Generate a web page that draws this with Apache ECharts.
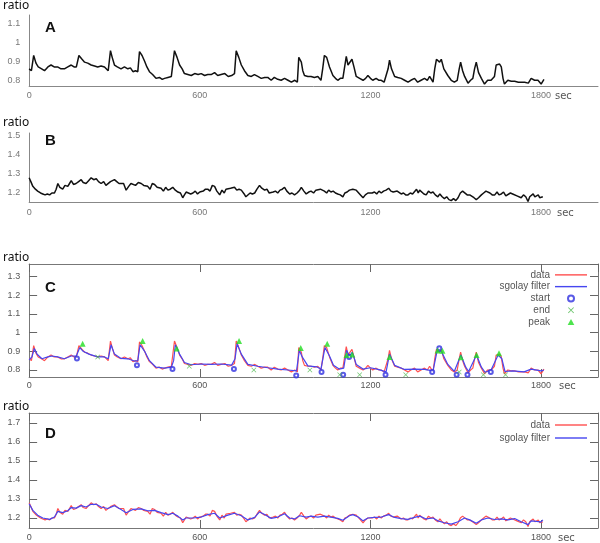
<!DOCTYPE html>
<html>
<head>
<meta charset="utf-8">
<script src="https://cdn.jsdelivr.net/npm/echarts@6/dist/echarts.min.js"></script>
<style>
html, body { margin: 0; padding: 0; background: #fff; }
#chart { width: 600px; height: 543px; }
</style>
</head>
<body>
<div id="chart"></div>
<script>
'use strict';
// ===== 数据: [sec, ratio] =====
// A 和 C 的原始数据
const ratioA = [[0,0.86],[8,0.85],[16,0.93],[24,0.89],[32,0.87],[44,0.86],[54,0.85],[66,0.87],[77,0.88],[88,0.87],[100,0.87],[112,0.86],[124,0.86],[136,0.87],[148,0.88],[158,0.87],[166,0.87],[175,0.93],[186,0.91],[195,0.895],[206,0.89],[218,0.88],[230,0.875],[241,0.87],[253,0.875],[265,0.87],[272,0.875],[278,0.85],[286,0.955],[292,0.92],[300,0.88],[310,0.87],[323,0.86],[335,0.87],[347,0.86],[356,0.865],[365,0.845],[374,0.85],[382,0.845],[388,0.95],[397,0.93],[406,0.90],[414,0.87],[423,0.845],[434,0.83],[446,0.81],[458,0.815],[468,0.805],[476,0.81],[488,0.815],[500,0.82],[505,0.81],[511,0.955],[520,0.92],[529,0.88],[538,0.86],[546,0.835],[558,0.83],[570,0.825],[582,0.835],[594,0.83],[605,0.835],[617,0.825],[628,0.83],[640,0.83],[652,0.84],[663,0.825],[675,0.83],[688,0.835],[700,0.82],[712,0.825],[722,0.835],[728,0.955],[737,0.92],[746,0.88],[757,0.85],[769,0.825],[781,0.82],[792,0.83],[804,0.82],[816,0.81],[828,0.815],[839,0.815],[851,0.80],[862,0.815],[874,0.805],[886,0.80],[898,0.81],[910,0.80],[922,0.79],[934,0.80],[943,0.79],[948,0.92],[957,0.895],[962,0.85],[968,0.825],[980,0.82],[991,0.82],[1003,0.815],[1015,0.82],[1026,0.80],[1032,0.86],[1038,0.93],[1046,0.92],[1056,0.87],[1062,0.86],[1068,0.825],[1077,0.81],[1085,0.80],[1094,0.81],[1103,0.81],[1109,0.80],[1115,0.925],[1121,0.88],[1126,0.87],[1135,0.91],[1142,0.87],[1150,0.82],[1162,0.81],[1174,0.80],[1183,0.81],[1191,0.825],[1200,0.81],[1208,0.80],[1220,0.81],[1230,0.80],[1238,0.80],[1248,0.79],[1255,0.785],[1262,0.86],[1267,0.905],[1274,0.86],[1285,0.82],[1296,0.815],[1308,0.81],[1320,0.80],[1332,0.79],[1342,0.80],[1355,0.81],[1366,0.79],[1378,0.80],[1390,0.81],[1400,0.80],[1408,0.82],[1420,0.79],[1426,0.86],[1432,0.91],[1438,0.90],[1443,0.895],[1449,0.91],[1458,0.86],[1472,0.825],[1484,0.80],[1495,0.79],[1505,0.80],[1512,0.86],[1517,0.895],[1524,0.85],[1531,0.82],[1543,0.785],[1552,0.80],[1560,0.81],[1566,0.86],[1572,0.895],[1580,0.84],[1590,0.81],[1601,0.78],[1612,0.80],[1624,0.80],[1636,0.82],[1642,0.88],[1648,0.89],[1654,0.885],[1660,0.87],[1666,0.81],[1671,0.78],[1683,0.80],[1695,0.795],[1707,0.795],[1720,0.79],[1732,0.79],[1742,0.79],[1755,0.785],[1765,0.81],[1777,0.80],[1789,0.80],[1800,0.78],[1810,0.805]];

// C 的 sgolay 滤波曲线
const filterC = [[0,0.855],[10,0.87],[18,0.915],[28,0.885],[45,0.86],[66,0.87],[80,0.875],[100,0.87],[124,0.86],[148,0.875],[166,0.875],[178,0.92],[190,0.9],[210,0.885],[241,0.87],[265,0.87],[278,0.86],[288,0.935],[300,0.885],[323,0.862],[347,0.86],[370,0.848],[382,0.85],[390,0.935],[406,0.9],[423,0.85],[446,0.815],[476,0.81],[500,0.815],[508,0.85],[514,0.935],[529,0.885],[546,0.84],[570,0.828],[605,0.832],[640,0.83],[675,0.832],[712,0.826],[724,0.86],[731,0.94],[746,0.885],[769,0.83],[804,0.82],[839,0.812],[874,0.805],[910,0.8],[940,0.795],[950,0.905],[960,0.87],[980,0.822],[1010,0.817],[1026,0.805],[1040,0.92],[1056,0.875],[1070,0.825],[1090,0.805],[1106,0.81],[1116,0.905],[1126,0.875],[1136,0.895],[1150,0.83],[1174,0.805],[1200,0.812],[1230,0.802],[1255,0.79],[1267,0.885],[1285,0.825],[1320,0.803],[1355,0.805],[1390,0.803],[1420,0.795],[1434,0.9],[1449,0.9],[1472,0.83],[1495,0.793],[1518,0.88],[1535,0.815],[1545,0.792],[1573,0.88],[1590,0.815],[1603,0.788],[1624,0.8],[1649,0.88],[1662,0.86],[1673,0.792],[1700,0.795],[1740,0.79],[1765,0.805],[1800,0.795],[1810,0.8]];

// C 的检测点
const startC = [[168,0.862],[379,0.825],[504,0.805],[720,0.805],[939,0.77],[1028,0.79],[1104,0.775],[1125,0.87],[1253,0.774],[1417,0.79],[1442,0.917],[1503,0.775],[1541,0.775],[1623,0.79]];
const endC = [[241,0.87],[563,0.82],[790,0.80],[987,0.80],[1092,0.775],[1162,0.775],[1324,0.775],[1512,0.79],[1597,0.774],[1675,0.774]];
const peakC = [[188,0.94],[399,0.955],[519,0.915],[738,0.955],[955,0.918],[1048,0.94],[1116,0.88],[1136,0.883],[1267,0.87],[1436,0.905],[1453,0.903],[1518,0.868],[1573,0.88],[1652,0.89]];

// B 和 D 的原始数据
const ratioB = [[0,1.28],[6,1.26],[13,1.235],[22,1.22],[30,1.21],[40,1.2],[48,1.195],[56,1.19],[64,1.195],[72,1.19],[80,1.2],[89,1.2],[95,1.22],[101,1.25],[108,1.23],[118,1.22],[126,1.24],[136,1.235],[142,1.25],[148,1.265],[156,1.245],[165,1.25],[174,1.26],[183,1.27],[190,1.255],[200,1.25],[209,1.265],[218,1.28],[227,1.27],[236,1.275],[244,1.26],[253,1.25],[262,1.26],[270,1.24],[277,1.245],[286,1.26],[293,1.255],[300,1.27],[308,1.26],[316,1.25],[323,1.24],[332,1.25],[341,1.215],[350,1.235],[358,1.25],[365,1.25],[374,1.24],[384,1.255],[394,1.25],[403,1.24],[410,1.245],[417,1.235],[425,1.22],[433,1.25],[441,1.245],[450,1.23],[457,1.235],[464,1.225],[472,1.21],[480,1.23],[488,1.215],[496,1.22],[505,1.23],[514,1.215],[523,1.205],[532,1.2],[540,1.175],[546,1.19],[552,1.205],[560,1.2],[568,1.195],[576,1.2],[584,1.21],[592,1.195],[600,1.205],[605,1.2],[612,1.21],[620,1.22],[628,1.22],[636,1.21],[644,1.24],[652,1.235],[660,1.21],[670,1.19],[678,1.215],[686,1.2],[692,1.22],[699,1.215],[708,1.225],[715,1.235],[722,1.23],[730,1.215],[738,1.22],[746,1.215],[756,1.195],[762,1.18],[769,1.18],[777,1.2],[785,1.195],[793,1.2],[801,1.22],[810,1.24],[818,1.225],[828,1.215],[836,1.22],[844,1.2],[851,1.19],[858,1.205],[866,1.21],[874,1.2],[882,1.215],[890,1.22],[898,1.23],[906,1.21],[916,1.195],[924,1.2],[933,1.19],[942,1.2],[951,1.215],[957,1.23],[966,1.21],[974,1.195],[983,1.205],[991,1.21],[1000,1.2],[1008,1.215],[1015,1.205],[1024,1.22],[1031,1.21],[1038,1.21],[1046,1.2],[1053,1.215],[1061,1.205],[1069,1.21],[1077,1.2],[1085,1.195],[1094,1.19],[1103,1.18],[1110,1.2],[1118,1.205],[1126,1.215],[1132,1.225],[1138,1.22],[1145,1.21],[1150,1.215],[1157,1.205],[1165,1.19],[1174,1.175],[1182,1.19],[1191,1.2],[1198,1.21],[1206,1.2],[1214,1.205],[1222,1.195],[1230,1.21],[1238,1.2],[1246,1.21],[1255,1.215],[1264,1.225],[1272,1.21],[1280,1.205],[1285,1.2],[1294,1.21],[1300,1.2],[1308,1.195],[1316,1.2],[1324,1.19],[1332,1.19],[1340,1.2],[1348,1.195],[1355,1.205],[1362,1.22],[1368,1.2],[1373,1.215],[1380,1.205],[1388,1.195],[1396,1.19],[1404,1.21],[1412,1.2],[1420,1.205],[1428,1.19],[1437,1.18],[1444,1.195],[1452,1.18],[1460,1.17],[1468,1.18],[1476,1.165],[1484,1.16],[1492,1.17],[1500,1.16],[1508,1.175],[1516,1.2],[1524,1.21],[1531,1.205],[1540,1.19],[1549,1.19],[1556,1.18],[1564,1.175],[1572,1.165],[1580,1.175],[1590,1.19],[1598,1.2],[1606,1.21],[1613,1.205],[1620,1.2],[1628,1.19],[1637,1.19],[1645,1.205],[1652,1.19],[1660,1.195],[1668,1.205],[1676,1.185],[1683,1.19],[1692,1.2],[1700,1.195],[1707,1.2],[1715,1.185],[1722,1.19],[1730,1.175],[1738,1.19],[1746,1.18],[1754,1.155],[1760,1.18],[1765,1.19],[1772,1.195],[1778,1.18],[1783,1.18],[1790,1.19],[1795,1.175],[1800,1.175],[1806,1.18]];

// D 的 sgolay 滤波曲线
const filterD = [[0,1.275],[13,1.24],[30,1.215],[48,1.2],[72,1.193],[89,1.205],[101,1.235],[118,1.228],[136,1.238],[148,1.255],[165,1.252],[183,1.265],[200,1.258],[218,1.272],[236,1.272],[253,1.258],[277,1.25],[300,1.265],[323,1.245],[341,1.228],[365,1.245],[394,1.248],[417,1.238],[441,1.24],[464,1.228],[488,1.218],[505,1.225],[523,1.21],[540,1.19],[552,1.2],[576,1.2],[605,1.205],[628,1.218],[652,1.225],[670,1.2],[699,1.215],[722,1.225],[746,1.212],[769,1.19],[793,1.203],[810,1.232],[828,1.218],[851,1.198],[874,1.205],[898,1.222],[916,1.2],[933,1.195],[951,1.212],[974,1.205],[991,1.21],[1015,1.205],[1038,1.21],[1061,1.205],[1085,1.198],[1103,1.188],[1126,1.212],[1138,1.218],[1157,1.205],[1174,1.185],[1191,1.2],[1214,1.203],[1238,1.205],[1264,1.218],[1285,1.203],[1308,1.197],[1332,1.193],[1355,1.203],[1373,1.21],[1396,1.195],[1420,1.2],[1437,1.185],[1460,1.175],[1484,1.168],[1508,1.18],[1531,1.2],[1549,1.19],[1572,1.172],[1590,1.19],[1613,1.2],[1637,1.192],[1660,1.195],[1683,1.19],[1707,1.197],[1730,1.18],[1754,1.165],[1765,1.185],[1783,1.182],[1800,1.18],[1806,1.19]];

const panelNames = ['A', 'B', 'C', 'D'];
const legendC = ['data', 'sgolay filter', 'start', 'end', 'peak'];
const legendD = ['data', 'sgolay filter'];

// ===== 布局 =====
let grids = [
    { left: 28, width: 570, top: 15, height: 71 },
    { left: 28, width: 570, top: 133, height: 69 },
    { left: 28, width: 570, top: 264, height: 113 },
    { left: 28, width: 570, top: 413, height: 115 }
];
let yRange = [[0.77, 1.142], [1.1526, 1.5158], [0.7626, 1.367], [1.1474, 1.7526]];
let labelFont = 'Liberation Sans';

// 图形符号
let crossPath = 'path://M0,1L1,0L5,4L9,0L10,1L6,5L10,9L9,10L5,6L1,10L0,9L4,5Z';
let triPath = 'path://M5,0L10,9L0,9Z';
let linePath = 'path://M0,0L32,0L32,1.4L0,1.4Z';
let redColor = '#ff5050';
let blueColor = '#4646f0';

function plainNum(v) {
    return String(v);
}

function plainX(grid, margin) {
    return {
        type: 'value', gridIndex: grid, min: 0, max: 2000, interval: 600,
        axisLine: { lineStyle: { color: '#888' } },
        axisTick: { show: false },
        splitLine: { show: false },
        axisLabel: { color: '#777', fontSize: 9, fontFamily: labelFont, margin: margin, showMaxLabel: false, formatter: plainNum }
    };
}

function plainY(grid, gap) {
    return {
        type: 'value', gridIndex: grid, min: yRange[grid][0], max: yRange[grid][1],
        minInterval: 0.1, maxInterval: 0.1,
        name: 'ratio', nameLocation: 'end', nameGap: gap,
        nameTextStyle: { color: '#111', fontSize: 12, fontFamily: 'Noto Sans', align: 'right', verticalAlign: 'bottom' },
        axisLine: { show: true, lineStyle: { color: '#888' } },
        axisTick: { show: false },
        splitLine: { show: false },
        axisLabel: { color: '#777', fontSize: 9, fontFamily: labelFont, margin: 9, showMinLabel: false, showMaxLabel: false }
    };
}

function boxX(grid, pos, margin) {
    return {
        type: 'value', gridIndex: grid, position: pos, min: 0, max: 2000, interval: 600,
        axisLine: { onZero: false, lineStyle: { color: '#777' } },
        axisTick: { inside: true, length: 8, lineStyle: { color: '#666' } },
        splitLine: { show: false },
        axisLabel: { show: pos === 'bottom', color: '#555', fontSize: 9, fontFamily: labelFont, margin: margin, showMaxLabel: false, formatter: plainNum }
    };
}

function boxY(grid, pos, gap) {
    let ax = {
        type: 'value', gridIndex: grid, position: pos, min: yRange[grid][0], max: yRange[grid][1],
        minInterval: 0.1, maxInterval: 0.1,
        axisLine: { show: true, onZero: false, lineStyle: { color: '#777' } },
        axisTick: { show: true, inside: true, length: 8, lineStyle: { color: '#666' } },
        splitLine: { show: false },
        axisLabel: { show: pos === 'left', color: '#555', fontSize: 9, fontFamily: labelFont, margin: 9, showMinLabel: false, showMaxLabel: false }
    };
    if (pos === 'left') {
        ax.name = 'ratio';
        ax.nameLocation = 'end';
        ax.nameGap = gap;
        ax.nameTextStyle = { color: '#111', fontSize: 12, fontFamily: 'Noto Sans', align: 'right', verticalAlign: 'bottom' };
    }
    return ax;
}

function lineSeries(name, data, x, y, color, width) {
    return {
        name: name, type: 'line', data: data, xAxisIndex: x, yAxisIndex: y,
        showSymbol: false, symbol: 'none', animation: false,
        lineStyle: { color: color, width: width },
        itemStyle: { color: color }
    };
}

function dotSeries(name, data, symbol, size, color, border) {
    return {
        name: name, type: 'scatter', data: data, xAxisIndex: 2, yAxisIndex: 2,
        symbol: symbol, symbolSize: size, animation: false,
        itemStyle: { color: color, borderColor: color, borderWidth: border },
        z: 5
    };
}

// 图例项: 线条用细长矩形图标
function legendItems(names) {
    return names.map(function(n) {
        if (n === 'data' || n === 'sgolay filter') {
            return { name: n, icon: linePath };
        }
        return { name: n };
    });
}

let letterTop = [20, 133, 280, 426];
let secPos = [[555, 97], [557, 214], [559, 387], [558, 539]];

let option = {
    backgroundColor: '#fff',
    animation: false,
    grid: grids,
    title: panelNames.map(function(n, i) {
        return {
            text: n, left: 45, top: letterTop[i], padding: 0,
            textStyle: { fontFamily: 'Liberation Sans', fontWeight: 'bold', fontSize: 15, color: '#111' }
        };
    }),
    xAxis: [
        plainX(0, 5),
        plainX(1, 6),
        boxX(2, 'bottom', 4),
        boxX(2, 'top', 4),
        boxX(3, 'bottom', 5),
        boxX(3, 'top', 5)
    ],
    yAxis: [
        plainY(0, 3),
        plainY(1, 4),
        boxY(2, 'left', 0),
        boxY(2, 'right', 0),
        boxY(3, 'left', 0),
        boxY(3, 'right', 0)
    ],
    legend: [{
        data: legendItems(legendC),
        orient: 'vertical', align: 'right', right: 13, top: 269, padding: 0,
        itemGap: 0, itemWidth: 32, itemHeight: 6, selectedMode: false,
        textStyle: { color: '#555', fontSize: 10, fontFamily: labelFont, lineHeight: 11.75 }
    }, {
        data: legendItems(legendD),
        orient: 'vertical', align: 'right', right: 13, top: 419, padding: 0,
        itemGap: 1, itemWidth: 32, itemHeight: 6, selectedMode: false,
        textStyle: { color: '#555', fontSize: 10, fontFamily: labelFont, lineHeight: 12 }
    }],
    graphic: secPos.map(function(p) {
        return {
            type: 'text', left: p[0], top: p[1] - 6,
            style: { text: 'sec', fill: '#555', font: '10px "DejaVu Sans"' }
        };
    }),
    series: [
        lineSeries('A', ratioA, 0, 0, '#111', 1.5),
        lineSeries('B', ratioB, 1, 1, '#111', 1.5),
        lineSeries('data', ratioA, 2, 2, redColor, 1.2),
        lineSeries('sgolay filter', filterC, 2, 2, blueColor, 1.2),
        dotSeries('start', startC, 'emptyCircle', 4, '#3030e0', 1),
        dotSeries('end', endC, crossPath, 5, '#4cb84c', 0),
        dotSeries('peak', peakC, triPath, 6, '#22dd22', 0),
        lineSeries('data', ratioB, 4, 4, redColor, 1.2),
        lineSeries('sgolay filter', filterD, 4, 4, blueColor, 1.2)
    ]
};

let myChart = echarts.init(document.getElementById('chart'));
myChart.setOption(option);
</script>
</body>
</html>
